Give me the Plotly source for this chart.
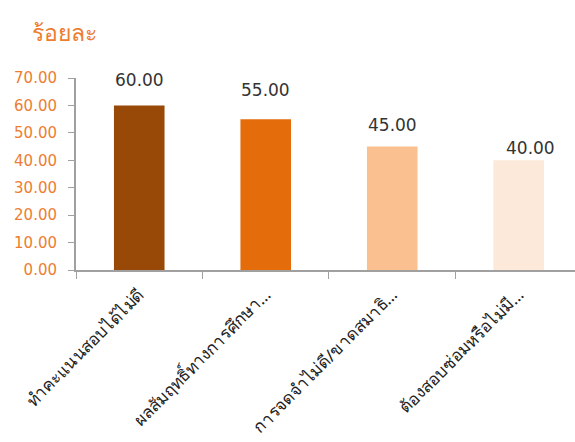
import plotly.graph_objects as go

categories = ["ทำคะแนนสอบได้ไม่ดี", "ผลสัมฤทธิ์ทางการศึกษา…", "การจดจำไม่ดี/ขาดสมาธิ…", "ต้องสอบซ่อมหรือไม่มี…"]
values = [60.00, 55.00, 45.00, 40.00]
bar_colors = ["#984807", "#E46C0A", "#FAC090", "#FDE9D9"]
tick_vals = [0, 10, 20, 30, 40, 50, 60, 70]
tick_text = ["0.00", "10.00", "20.00", "30.00", "40.00", "50.00", "60.00", "70.00"]

label_yshift = [25, 29, 22, 12]
label_xshift = [0, 0, 0, 12]

fig = go.Figure()
fig.add_trace(go.Bar(x=categories, y=values, marker=dict(color=bar_colors, line=dict(width=0)),
                     hoverinfo="skip"))

for c, v, ys, xs in zip(categories, values, label_yshift, label_xshift):
    fig.add_annotation(x=c, y=v, text=f"{v:.2f}", showarrow=False, yshift=ys, xshift=xs,
                       font=dict(family="DejaVu Sans", size=17, color="#333333"))

fig.add_annotation(xref="paper", yref="paper", x=-0.092, y=1.0, yshift=46, xanchor="left", yanchor="middle",
                   text="ร้อยละ", showarrow=False,
                   font=dict(family="Noto Sans, DejaVu Sans", size=23, color="#ED7D31"))

fig.update_layout(
    width=575, height=442,
    margin=dict(l=76, r=0, t=78, b=172, autoexpand=False),
    paper_bgcolor="white", plot_bgcolor="white",
    bargap=0.6, showlegend=False,
)
fig.update_xaxes(
    range=[-0.5, 3.445], tickson="boundaries", ticks="outside", ticklen=7, tickcolor="#A0A0A0",
    showline=True, linecolor="#A0A0A0", linewidth=2, showgrid=False, automargin=False,
    tickangle=-45, ticklabelstandoff=6,
    tickfont=dict(family="Noto Sans, DejaVu Sans", size=17, color="#222222"),
)
fig.update_yaxes(
    range=[0, 70], tickvals=tick_vals, ticktext=tick_text, ticks="outside", ticklen=6, tickcolor="#A0A0A0",
    showline=True, linecolor="#A0A0A0", linewidth=2, showgrid=False, zeroline=False, automargin=False,
    ticklabelstandoff=8,
    tickfont=dict(family="DejaVu Sans", size=15, color="#ED7D31"),
)

fig.write_html("out.html")
